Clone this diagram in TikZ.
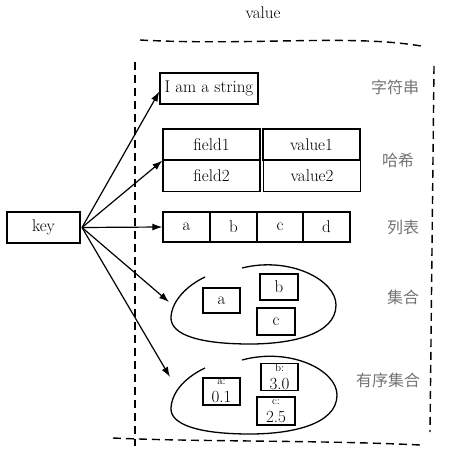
\documentclass[tikz,border=0pt]{standalone}
\usepackage{fontspec}
\newfontfamily\cjk{Noto Sans CJK SC}
\usetikzlibrary{arrows.meta}
\begin{document}
\begin{tikzpicture}[x=1pt,y=-1pt,
  box/.style={draw, line width=1.3pt, inner sep=0pt, font=\fontsize{17}{19}\selectfont},
  lbl/.style={font=\cjk\fontsize{16}{18}\selectfont, text=black!55},
  dsh/.style={line width=1.4pt, dash pattern=on 8pt off 5pt},
  arr/.style={line width=1.2pt, -{Latex[length=10pt,width=7pt]}},
  blob/.style={line width=1.3pt},
  zs/.style={box, align=center, minimum width=37pt, minimum height=27pt},
]
\useasboundingbox (0,0) rectangle (454,470);
\node[font=\fontsize{17}{19}\selectfont] (title) at (263,13) {value};
% dashed frame
\draw[dsh] (140,40) .. controls (250,46) and (350,34) .. (421,46);
\draw[dsh] (434,66) -- (430,432);
\draw[dsh] (135,62) -- (135,446);
\draw[dsh] (113,438) .. controls (200,442) and (320,440) .. (420,445);
% key
\node[box, minimum width=73pt, minimum height=31pt] (key) at (43.5,227.5) {key};
% string
\node[box, minimum width=98pt, minimum height=31pt] (str) at (209,88.5) {I am a string};
% hash
\node[box, minimum width=97pt, minimum height=31pt] (f1) at (211.5,144.5) {field1};
\node[box, minimum width=97pt, minimum height=31pt] (v1) at (311.5,144.5) {value1};
\node[box, minimum width=97pt, minimum height=31pt] (f2) at (211.5,176) {field2};
\node[box, minimum width=97pt, minimum height=31pt] (v2) at (312,176) {value2};
% list
\node[box, minimum width=47pt, minimum height=30pt] (la) at (186.5,227) {a};
\node[box, minimum width=47pt, minimum height=30pt] (lb) at (233.5,227) {b};
\node[box, minimum width=47pt, minimum height=30pt] (lc) at (280,227) {c};
\node[box, minimum width=47pt, minimum height=30pt] (ld) at (326.5,227) {d};
% set
\node[box, minimum width=37pt, minimum height=25pt] (sa) at (221.5,300.5) {a};
\node[box, minimum width=38pt, minimum height=26pt] (sb) at (279,287) {b};
\node[box, minimum width=38pt, minimum height=27pt] (sc) at (276,321.5) {c};
\draw[blob] (242,268) .. controls (290,256) and (336,280) .. (336,305)
  .. controls (336,335) and (290,344) .. (250,344)
  .. controls (200,344) and (170,335) .. (171,317)
  .. controls (172,300) and (188,285) .. (205,277);
\coordinate (setin) at (169,302);
% zset
\node[zs] (za) at (221.5,391.5) {{\fontsize{11}{8}\selectfont a:}\\[-1pt]{\fontsize{17}{12}\selectfont 0.1}};
\node[zs] (zb) at (279.5,377) {{\fontsize{11}{8}\selectfont b:}\\[-1pt]{\fontsize{17}{12}\selectfont 3.0}};
\node[zs, minimum width=38pt, minimum height=28pt] (zc) at (276,411) {{\fontsize{11}{8}\selectfont c:}\\[-1pt]{\fontsize{17}{12}\selectfont 2.5}};
\draw[blob] (242,360) .. controls (290,347) and (337,370) .. (337,395)
  .. controls (337,425) and (290,434) .. (250,434)
  .. controls (200,434) and (170,425) .. (171,408)
  .. controls (172,390) and (188,376) .. (205,368);
\coordinate (zsetin) at (170,377);
% labels
\node[lbl] (l1) at (395,87) {字符串};
\node[lbl] (l2) at (398,160) {哈希};
\node[lbl] (l3) at (403,227) {列表};
\node[lbl] (l4) at (403,297) {集合};
\node[lbl] (l5) at (388,380) {有序集合};
% arrows
\coordinate (ks) at (82,227.5);
\draw[arr] (ks) -- ([yshift=-3pt]str.west);
\draw[arr] (ks) -- (f1.south west);
\draw[arr] (ks) -- (la.west);
\draw[arr] (ks) -- (setin);
\draw[arr] (ks) -- (zsetin);
\end{tikzpicture}
\end{document}
